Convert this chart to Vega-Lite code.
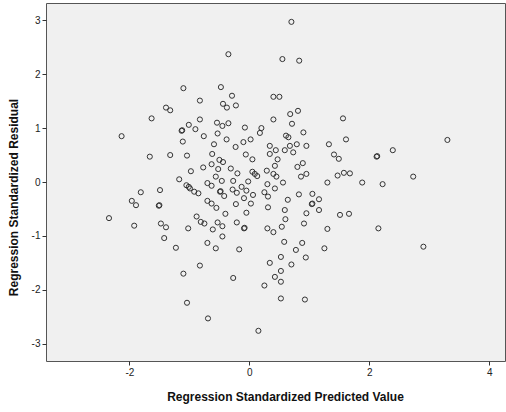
{
  "$schema": "https://vega.github.io/schema/vega-lite/v6.json",
  "autosize": {"type": "none"},
  "padding": {"left": 46, "top": 3, "right": 1, "bottom": 51},
  "width": 459,
  "height": 358,
  "background": "white",
  "config": {
    "view": {"fill": "#f0f0f0", "stroke": "#555555", "strokeWidth": 1},
    "font": "Liberation Sans",
    "axis": {
      "grid": false,
      "domain": false,
      "ticks": true,
      "tickColor": "#333333",
      "tickSize": 4,
      "labelFont": "Liberation Sans",
      "labelFontSize": 10,
      "labelColor": "#222222",
      "labelPadding": 2,
      "labelExpr": "datum.value + ''",
      "titleFont": "Liberation Sans",
      "titleFontSize": 12,
      "titleFontWeight": "bold",
      "titleColor": "#111111"
    }
  },
  "data": {
    "values": [
      {"x": -2.13, "y": 0.85}, {"x": -1.81, "y": -0.19}, {"x": -1.96, "y": -0.35}, {"x": -1.89, "y": -0.43},
      {"x": -2.34, "y": -0.67}, {"x": -1.92, "y": -0.81},
      {"x": -0.35, "y": 2.37}, {"x": -1.10, "y": 1.74}, {"x": -0.475, "y": 1.76}, {"x": -0.825, "y": 1.51},
      {"x": -1.39, "y": 1.38}, {"x": -1.32, "y": 1.33}, {"x": -0.44, "y": 1.45}, {"x": -0.375, "y": 1.38},
      {"x": -1.63, "y": 1.18}, {"x": -0.825, "y": 1.16}, {"x": -0.54, "y": 1.10}, {"x": -0.45, "y": 1.04},
      {"x": -0.35, "y": 1.09}, {"x": -1.01, "y": 1.06}, {"x": -1.13, "y": 0.95}, {"x": -1.12, "y": 0.96},
      {"x": -0.90, "y": 0.98}, {"x": -0.76, "y": 0.85}, {"x": -1.11, "y": 0.75}, {"x": -0.53, "y": 0.90},
      {"x": -0.38, "y": 0.79}, {"x": -0.59, "y": 0.70}, {"x": -1.66, "y": 0.47}, {"x": -1.32, "y": 0.50},
      {"x": -1.04, "y": 0.49}, {"x": -0.62, "y": 0.52}, {"x": -0.50, "y": 0.41}, {"x": -0.44, "y": 0.37},
      {"x": -0.63, "y": 0.33}, {"x": -0.77, "y": 0.27}, {"x": -0.975, "y": 0.20}, {"x": -0.52, "y": 0.24},
      {"x": -1.17, "y": 0.05}, {"x": -0.56, "y": 0.10}, {"x": -0.46, "y": 0.02}, {"x": -1.05, "y": -0.06},
      {"x": -1.01, "y": -0.09}, {"x": -0.99, "y": -0.12}, {"x": -0.92, "y": -0.18}, {"x": -0.85, "y": -0.21},
      {"x": -0.70, "y": -0.02}, {"x": -0.63, "y": -0.07},
      {"x": -1.49, "y": -0.15}, {"x": -0.49, "y": -0.18}, {"x": -0.48, "y": -0.17}, {"x": -0.42, "y": -0.26},
      {"x": -1.51, "y": -0.44}, {"x": -1.50, "y": -0.43}, {"x": -0.70, "y": -0.35}, {"x": -0.63, "y": -0.40},
      {"x": -0.55, "y": -0.48}, {"x": -0.40, "y": -0.59}, {"x": -1.475, "y": -0.77}, {"x": -1.39, "y": -0.84},
      {"x": -1.02, "y": -0.86}, {"x": -0.88, "y": -0.64}, {"x": -0.81, "y": -0.74}, {"x": -0.75, "y": -0.77},
      {"x": -0.61, "y": -0.88}, {"x": -0.53, "y": -0.75}, {"x": -0.45, "y": -0.82}, {"x": -0.45, "y": -1.01},
      {"x": -1.42, "y": -1.04}, {"x": -1.225, "y": -1.22}, {"x": -0.70, "y": -1.13}, {"x": -0.56, "y": -1.23},
      {"x": -0.825, "y": -1.55}, {"x": -1.10, "y": -1.70}, {"x": -1.04, "y": -2.24}, {"x": -0.69, "y": -2.53},
      {"x": 0.70, "y": 2.97}, {"x": 0.55, "y": 2.28}, {"x": 0.83, "y": 2.25}, {"x": -0.29, "y": 1.60},
      {"x": -0.225, "y": 1.42}, {"x": 0.40, "y": 1.58}, {"x": 0.50, "y": 1.58}, {"x": -0.075, "y": 1.01},
      {"x": 0.20, "y": 1.00}, {"x": 0.175, "y": 0.91}, {"x": 0.40, "y": 1.16}, {"x": 0.68, "y": 1.26},
      {"x": 0.81, "y": 1.32}, {"x": 0.71, "y": 1.08}, {"x": 0.90, "y": 0.92}, {"x": -0.23, "y": 0.65},
      {"x": -0.10, "y": 0.74}, {"x": 0.02, "y": 0.79}, {"x": -0.06, "y": 0.51}, {"x": 0.05, "y": 0.42},
      {"x": 0.34, "y": 0.67}, {"x": 0.34, "y": 0.52}, {"x": 0.44, "y": 0.59}, {"x": 0.47, "y": 0.42},
      {"x": 0.61, "y": 0.86}, {"x": 0.65, "y": 0.83}, {"x": 0.59, "y": 0.59}, {"x": 0.675, "y": 0.67},
      {"x": 0.73, "y": 0.55}, {"x": 0.79, "y": 0.70}, {"x": 0.95, "y": 0.67}, {"x": 0.425, "y": 0.30},
      {"x": 0.80, "y": 0.28}, {"x": 0.89, "y": 0.35}, {"x": 0.95, "y": 0.15}, {"x": 0.86, "y": 0.10},
      {"x": -0.31, "y": 0.25}, {"x": -0.20, "y": 0.16}, {"x": 0.05, "y": 0.19}, {"x": 0.09, "y": 0.15},
      {"x": 0.13, "y": 0.11}, {"x": 0.29, "y": 0.21}, {"x": 0.40, "y": 0.15}, {"x": 0.45, "y": 0.10},
      {"x": 0.56, "y": -0.01}, {"x": -0.27, "y": 0.02}, {"x": -0.13, "y": -0.09}, {"x": -0.02, "y": 0.01},
      {"x": 0.30, "y": -0.04}, {"x": 0.425, "y": -0.12},
      {"x": -0.28, "y": -0.14}, {"x": -0.21, "y": -0.20}, {"x": -0.05, "y": -0.16}, {"x": 0.06, "y": -0.24},
      {"x": -0.09, "y": -0.30}, {"x": 0.025, "y": -0.40}, {"x": -0.225, "y": -0.41}, {"x": -0.05, "y": -0.57},
      {"x": 0.25, "y": -0.19}, {"x": 0.31, "y": -0.27}, {"x": 0.31, "y": -0.47}, {"x": 0.64, "y": -0.33},
      {"x": 0.825, "y": -0.23}, {"x": 0.59, "y": -0.52}, {"x": 0.60, "y": -0.69}, {"x": 0.95, "y": -0.58},
      {"x": 0.91, "y": -0.77}, {"x": -0.21, "y": -0.75}, {"x": -0.09, "y": -0.86}, {"x": -0.08, "y": -0.85},
      {"x": 0.30, "y": -0.86}, {"x": 0.40, "y": -0.93}, {"x": 0.54, "y": -0.83}, {"x": 0.58, "y": -1.11},
      {"x": 0.88, "y": -1.13}, {"x": 0.775, "y": -1.26}, {"x": -0.17, "y": -1.25}, {"x": 0.34, "y": -1.50},
      {"x": 0.525, "y": -1.39}, {"x": 0.70, "y": -1.53}, {"x": 0.94, "y": -1.40}, {"x": 0.525, "y": -1.65},
      {"x": 0.425, "y": -1.76}, {"x": 0.525, "y": -1.85}, {"x": 0.25, "y": -1.92}, {"x": -0.27, "y": -1.78},
      {"x": 0.525, "y": -2.16}, {"x": 0.925, "y": -2.18}, {"x": 0.15, "y": -2.76},
      {"x": 1.56, "y": 1.18}, {"x": 1.325, "y": 0.70}, {"x": 1.61, "y": 0.79}, {"x": 1.41, "y": 0.51},
      {"x": 1.49, "y": 0.43}, {"x": 2.12, "y": 0.47}, {"x": 2.13, "y": 0.48}, {"x": 1.30, "y": -0.01},
      {"x": 1.47, "y": 0.12}, {"x": 1.575, "y": 0.17}, {"x": 1.675, "y": 0.16}, {"x": 1.88, "y": -0.01},
      {"x": 2.22, "y": -0.04},
      {"x": 1.05, "y": -0.22}, {"x": 1.16, "y": -0.32}, {"x": 1.04, "y": -0.41}, {"x": 1.05, "y": -0.40},
      {"x": 1.16, "y": -0.52}, {"x": 1.51, "y": -0.61}, {"x": 1.66, "y": -0.59}, {"x": 1.30, "y": -0.87},
      {"x": 2.15, "y": -0.86}, {"x": 1.25, "y": -1.23},
      {"x": 3.30, "y": 0.78}, {"x": 2.39, "y": 0.59}, {"x": 2.73, "y": 0.10}, {"x": 2.90, "y": -1.20}
    ]
  },
  "mark": {"type": "point", "shape": "circle", "filled": false, "size": 26, "strokeWidth": 1, "stroke": "#2a2a2a", "opacity": 0.95},
  "encoding": {
    "x": {
      "field": "x", "type": "quantitative",
      "scale": {"domain": [-3.39, 4.26], "nice": false, "zero": false},
      "axis": {"values": [-2, 0, 2, 4], "title": "Regression Standardized Predicted Value", "titlePadding": 14, "titleX": 239}
    },
    "y": {
      "field": "y", "type": "quantitative",
      "scale": {"domain": [-3.32, 3.32], "nice": false, "zero": false},
      "axis": {"values": [-3, -2, -1, 0, 1, 2, 3], "title": "Regression Standardized Residual", "titlePadding": 11, "titleY": 194}
    }
  }
}
